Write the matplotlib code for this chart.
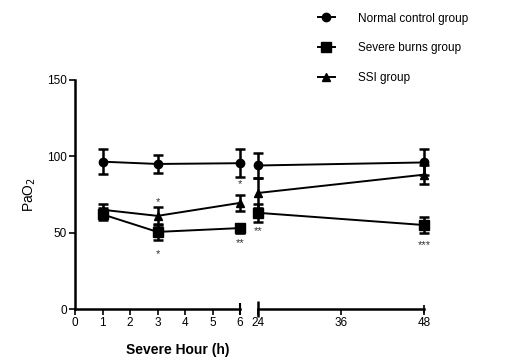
import matplotlib
matplotlib.use("Agg")
import matplotlib.pyplot as plt
from matplotlib.lines import Line2D

plt.rcParams['font.family'] = ['Liberation Sans', 'DejaVu Sans']

hours_early = [1, 3, 6]
hours_late = [24, 48]
normal_early = [96.5, 95, 95.5]
normal_early_err = [8, 6, 9]
normal_late = [94, 96]
normal_late_err = [8, 8.5]
burns_early = [62, 50.5, 53]
burns_early_err = [4, 5, 3]
burns_late = [63, 55]
burns_late_err = [6, 5]
ssi_early = [65, 61, 69.5]
ssi_early_err = [4, 6, 5]
ssi_late = [76, 88]
ssi_late_err = [10, 6]

ann_early = [(3, 70, '*'), (3, 36, '*'), (6, 82, '*'), (6, 43, '**')]
ann_late = [(24, 51, '**'), (48, 42, '***')]

fig = plt.figure(figsize=(5.15, 3.6), dpi=100)
axL = fig.add_axes([75/515, 1-309/360, (240-75)/515, (309-80)/360])
axR = fig.add_axes([258/515, 1-309/360, (424-258)/515, (309-80)/360])

styles = [('o', 6), ('s', 6.5), ('^', 6)]
series_early = [(normal_early, normal_early_err), (burns_early, burns_early_err), (ssi_early, ssi_early_err)]
series_late = [(normal_late, normal_late_err), (burns_late, burns_late_err), (ssi_late, ssi_late_err)]
labels = ['Normal control group', 'Severe burns group', 'SSI group']

def draw(ax, xs, v, e, m, ms):
    cont = ax.errorbar(xs, v, yerr=e, color='black', marker=m, ms=ms, lw=1.4,
                       elinewidth=1.8, capsize=3.5, capthick=1.8)
    for art in cont.get_children():
        art.set_clip_on(False)

handles = []
for (m, ms), (v, e), lab in zip(styles, series_early, labels):
    draw(axL, hours_early, v, e, m, ms)
    handles.append(Line2D([], [], color='black', marker=m, ms=ms, lw=1.4))
for (m, ms), (v, e) in zip(styles, series_late):
    draw(axR, hours_late, v, e, m, ms)

for x, y, t in ann_early:
    axL.text(x, y, t, ha='center', va='center', fontsize=8, color='#333333')
for x, y, t in ann_late:
    axR.text(x, y, t, ha='center', va='center', fontsize=8, color='#333333')

for ax in (axL, axR):
    ax.set_ylim(0, 150)
    ax.spines['top'].set_visible(False)
    ax.spines['right'].set_visible(False)
    ax.spines['bottom'].set_linewidth(1.8)
    ax.tick_params(axis='x', direction='out', length=4, width=1.2, labelsize=8.5, pad=2)

axL.set_xlim(0, 6)
axL.set_xticks([0, 1, 2, 3, 4, 5, 6])
axL.spines['left'].set_linewidth(1.8)
axL.set_yticks([0, 50, 100, 150])
axL.tick_params(axis='y', direction='out', length=4, width=1.2, labelsize=8.5, pad=2)
axL.set_ylabel('PaO$_2$', fontsize=10, labelpad=6)
axL.plot([6], [0], marker='|', ms=8, mew=1.5, color='black', clip_on=False)

axR.set_xlim(24, 48)
axR.set_xticks([24, 36, 48])
axR.spines['left'].set_visible(False)
axR.set_yticks([])
axR.plot([24], [0], marker='|', ms=12, mew=1.8, color='black', clip_on=False)
axR.plot([48], [0], marker='|', ms=6, mew=1.2, color='black', clip_on=False)

fig.text(178/515, 1-350/360, 'Severe Hour (h)', ha='center', va='center', fontsize=10, fontweight='bold')

fig.legend(handles=handles, labels=labels, loc='upper left', bbox_to_anchor=(307/515, 1-2/360),
           frameon=False, fontsize=8.5, handlelength=1.5, labelspacing=1.5, handletextpad=1.9)

fig.savefig('out.png', dpi=100)
